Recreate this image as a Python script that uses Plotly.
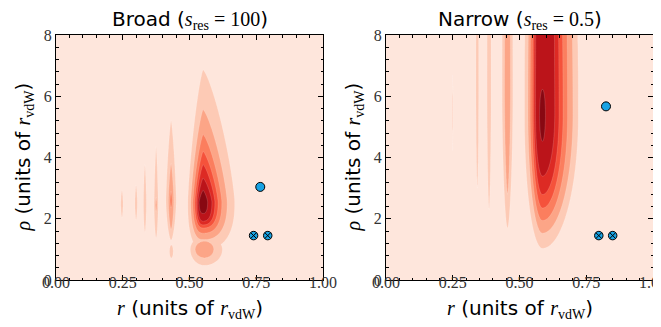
import numpy as np
import plotly.graph_objects as go

# ---------------- data ----------------
# contour levels (filled bands above each level), 8 band colours (Reds)
LEVELS = [1, 2, 3, 4, 5, 6, 7]
BAND_COLORS = ["#fee6dc", "#fdcab5", "#fca587", "#fb7e5e",
               "#f5523b", "#dd2a24", "#bb141a", "#880812"]

R_TICKS = [0.0, 0.25, 0.5, 0.75, 1.0]
RHO_TICKS = [0, 2, 4, 6, 8]

# Each lobe of the density: centre, peak value, and the extent of every
# contour level (1..m) to the left / right (in r) and down / up (in rho).
broad_main = dict(r0=0.551, rho0=2.55, peak=7.6, p_down=2.5, p_up=1.3,
                  left=[0.057, 0.046, 0.038, 0.031, 0.025, 0.020, 0.015],
                  right=[0.118, 0.090, 0.070, 0.056, 0.044, 0.033, 0.017],
                  down=[1.55, 1.23, 1.02, 0.85, 0.75, 0.63, 0.38],
                  up=[4.31, 3.01, 2.20, 1.65, 1.22, 0.78, 0.38])
broad_lobe = dict(r0=0.556, rho0=1.0, peak=2.3, p_down=2.0, p_up=2.0,
                  left=[0.053, 0.035], right=[0.067, 0.035],
                  down=[0.52, 0.28], up=[0.42, 0.27])
broad_s1 = dict(r0=0.431, rho0=2.6, peak=3.4, p_down=1.6, p_up=1.3,
                left=[0.019, 0.010, 0.004], right=[0.019, 0.010, 0.004],
                down=[1.30, 0.95, 0.25], up=[2.60, 1.20, 0.30])
broad_s1_lobe = dict(r0=0.432, rho0=0.93, peak=1.35, p_down=2.0, p_up=2.0,
                     left=[0.007], right=[0.007], down=[0.21], up=[0.21])
broad_s2 = dict(r0=0.375, rho0=2.45, peak=2.15, p_down=1.6, p_up=1.3,
                left=[0.0075, 0.003], right=[0.0075, 0.003],
                down=[1.08, 0.22], up=[1.92, 0.25])
broad_s3 = dict(r0=0.333, rho0=2.5, peak=1.6, p_down=1.6, p_up=1.4,
                left=[0.0055], right=[0.0055], down=[0.95], up=[1.27])
broad_s4 = dict(r0=0.300, rho0=2.5, peak=1.4, p_down=1.6, p_up=1.5,
                left=[0.0045], right=[0.0045], down=[0.55], up=[0.60])
broad_s5 = dict(r0=0.247, rho0=2.48, peak=1.35, p_down=1.6, p_up=1.6,
                left=[0.0042], right=[0.0042], down=[0.46], up=[0.45])

narrow_main = dict(r0=0.586, rho0=5.4, peak=7.6, p_down=2.0, p_up=2.0,
                   left=[0.067, 0.054, 0.046, 0.038, 0.032, 0.026, 0.011],
                   right=[0.134, 0.114, 0.094, 0.077, 0.062, 0.046, 0.011],
                   down=[4.36, 3.87, 3.46, 3.05, 2.61, 2.01, 0.87],
                   up=[14.0, 13.5, 13.0, 12.5, 12.0, 11.5, 0.82])
narrow_s1 = dict(r0=0.455, rho0=6.0, peak=2.4, p_down=1.7, p_up=2.0,
                 left=[0.020, 0.011], right=[0.020, 0.011],
                 down=[4.3, 3.2], up=[10.0, 9.5])
narrow_s2 = dict(r0=0.386, rho0=6.0, peak=1.5, p_down=1.7, p_up=2.0,
                 left=[0.0075], right=[0.0075], down=[3.7], up=[10.0])
narrow_s3 = dict(r0=0.342, rho0=6.0, peak=1.4, p_down=1.7, p_up=2.0,
                 left=[0.005], right=[0.005], down=[3.0], up=[10.0])
narrow_s4 = dict(r0=0.250, rho0=5.5, peak=1.1, p_down=1.6, p_up=1.6,
                 left=[0.0012], right=[0.0012], down=[1.3], up=[1.2])

BROAD_LOBES = [broad_main, broad_lobe, broad_s1, broad_s1_lobe,
               broad_s2, broad_s3, broad_s4, broad_s5]
NARROW_LOBES = [narrow_main, narrow_s1, narrow_s2, narrow_s3, narrow_s4]

# markers
broad_circle_r, broad_circle_rho = [0.765], [3.04]
broad_cross_r, broad_cross_rho = [0.740, 0.793], [1.45, 1.45]
narrow_circle_r, narrow_circle_rho = [0.824], [5.67]
narrow_cross_r, narrow_cross_rho = [0.797, 0.849], [1.45, 1.45]

MARKER_BLUE = "#17a2e3"

# ---------------- build density grids ----------------
r_grid = np.linspace(0.0, 1.0, 1001)
rho_grid = np.linspace(0.0, 8.0, 401)
R, P = np.meshgrid(r_grid, rho_grid)


def lobe_field(b):
    dr = (R - b["r0"])[..., None]
    dp = (P - b["rho0"])[..., None]
    left, right = np.array(b["left"]), np.array(b["right"])
    down, up = np.array(b["down"]), np.array(b["up"])
    m = len(left)
    # outer "zero" level for a smooth fall-off
    left = np.concatenate([[left[0] * 1.8], left])
    right = np.concatenate([[right[0] * 1.8], right])
    down = np.concatenate([[down[0] * 1.8], down])
    up = np.concatenate([[up[0] * 1.8], up])
    a = np.where(dr < 0, left, right)
    c = np.where(dp < 0, down, up)
    p = np.where(dp < 0, b["p_down"], b["p_up"])
    s = (np.abs(dr / a) ** p + np.abs(dp / c) ** p) ** (1.0 / p)
    z = np.zeros(R.shape)
    for k in range(m):
        sk, sk1 = s[..., k], s[..., k + 1]
        den = sk1 - sk
        frac = np.where(den > 1e-12, sk1 * (1 - sk) / np.maximum(den, 1e-12), 1.0)
        z += np.clip(frac, 0, 1)
    z += (b["peak"] - m) * np.clip(1 - s[..., m], 0, 1)
    return z


def panel_field(lobes):
    return np.max(np.stack([lobe_field(b) for b in lobes]), axis=0)


Z_broad = panel_field(BROAD_LOBES)
Z_narrow = panel_field(NARROW_LOBES)

colorscale = [[k / (len(BAND_COLORS) - 1), c] for k, c in enumerate(BAND_COLORS)]

fig = go.Figure()
for Z, xa, ya in [(Z_broad, "x", "y"), (Z_narrow, "x2", "y2")]:
    fig.add_trace(go.Contour(
        x=r_grid, y=rho_grid, z=Z, xaxis=xa, yaxis=ya,
        autocontour=False,
        contours=dict(start=LEVELS[0], end=LEVELS[-1], size=1,
                      coloring="fill", showlines=True),
        line=dict(width=0.5, color="rgba(255,255,255,0.3)", smoothing=0.8),
        colorscale=colorscale, showscale=False, hoverinfo="skip"))

for (cr, crho, xr, xrho, xa, ya) in [
        (broad_circle_r, broad_circle_rho, broad_cross_r, broad_cross_rho, "x", "y"),
        (narrow_circle_r, narrow_circle_rho, narrow_cross_r, narrow_cross_rho, "x2", "y2")]:
    fig.add_trace(go.Scatter(
        x=cr, y=crho, mode="markers", xaxis=xa, yaxis=ya, showlegend=False,
        marker=dict(symbol="circle", size=9, color=MARKER_BLUE,
                    line=dict(color="black", width=1))))
    fig.add_trace(go.Scatter(
        x=xr, y=xrho, mode="markers", xaxis=xa, yaxis=ya, showlegend=False,
        marker=dict(symbol="circle-x", size=8.5, color=MARKER_BLUE,
                    line=dict(color="black", width=1))))

W, H = 661, 327
tickfont = dict(family="Liberation Serif", size=16, color="#333")
common = dict(showline=True, linecolor="black", linewidth=1, mirror="allticks",
              ticks="inside", ticklen=5, tickwidth=1, tickcolor="black",
              showgrid=False, zeroline=False, tickfont=tickfont, automargin=False)
xcommon = dict(range=[0, 1], tickvals=R_TICKS, tickformat=".2f",
               ticklabelstandoff=-12,
               minor=dict(dtick=0.05, tick0=0, ticks="inside", ticklen=2.5,
                          tickcolor="black", showgrid=False), **common)
ycommon = dict(range=[0, 8], tickvals=RHO_TICKS,
               minor=dict(dtick=0.4, tick0=0, ticks="inside", ticklen=2.5,
                          tickcolor="black", showgrid=False), **common)

ydom = [55 / H, 300 / H]
fig.update_layout(
    width=W, height=H, margin=dict(l=0, r=0, t=0, b=0, autoexpand=False),
    paper_bgcolor="white", plot_bgcolor="white", showlegend=False,
    font=dict(family="DejaVu Sans", size=20, color="black"),
    xaxis=dict(domain=[48 / W, 315 / W], anchor="y", **xcommon),
    yaxis=dict(domain=ydom, anchor="x", **ycommon),
    xaxis2=dict(domain=[378 / W, 645 / W], anchor="y2", **xcommon),
    yaxis2=dict(domain=ydom, anchor="x2", **ycommon),
)

SERIF = "font-family:Liberation Serif"
rvdw = f'<span style="{SERIF}"><i>r</i><sub>vdW</sub></span>'
xlabel = f'<span style="{SERIF}"><i>r</i></span> (units of {rvdw})'
ylabel = f'<span style="{SERIF}"><i>ρ</i></span> (units of {rvdw})'
titles = [f'Broad (<span style="{SERIF}"><i>s</i><sub>res</sub> = 100</span>)',
          f'Narrow (<span style="{SERIF}"><i>s</i><sub>res</sub> = 0.5</span>)']

ann = []
for i, (x0, x1) in enumerate([(48, 315), (378, 645)]):
    xc = (x0 + x1) / 2 / W
    ann.append(dict(text=titles[i], x=xc, y=(H - 12) / H, xref="paper", yref="paper",
                    showarrow=False, xanchor="center", yanchor="middle",
                    font=dict(size=20)))
    ann.append(dict(text=xlabel, x=xc, y=(H - 301) / H, xref="paper", yref="paper",
                    showarrow=False, xanchor="center", yanchor="middle",
                    font=dict(size=20)))
    ann.append(dict(text=ylabel, x=(x0 - 33) / W, y=(H - 149.5) / H, xref="paper",
                    yref="paper", showarrow=False, xanchor="center", yanchor="middle",
                    textangle=-90, font=dict(size=20)))
fig.update_layout(annotations=ann)

fig.write_html("out.html")
